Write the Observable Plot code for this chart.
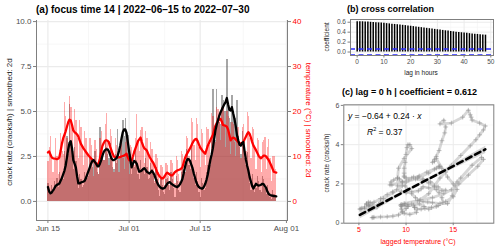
<!DOCTYPE html>
<html><head><meta charset="utf-8">
<script src="https://cdn.jsdelivr.net/npm/d3@7"></script>
<script src="https://cdn.jsdelivr.net/npm/@observablehq/plot@0.6"></script>
<style>
body{margin:0;background:#fff;font-family:"Liberation Sans",Arial,sans-serif;}
#wrap{position:relative;width:500px;height:248px;overflow:hidden;background:#fff;}
.p{position:absolute;}
.t{position:absolute;font-weight:bold;white-space:nowrap;color:#000;line-height:1;}
.lab{position:absolute;white-space:nowrap;line-height:1;transform:translate(-50%,-50%);}
.eq{position:absolute;white-space:nowrap;line-height:1;font-size:8.5px;color:#000;}
</style></head><body><div id="wrap"></div>
<script>
// ---------- data ----------
const startDate = "2022-06-15T00:00Z"; // first 6-hour bin
const crackBars = [
1.0,0.4,0.5,0.9, 0.5,1.1,0.9,1.3, 0.8,1.6,1.0,1.4, 1.2,2.8,2.2,3.6, 2.6,5.4,3.3,2.4,
1.8,3.0,2.2,1.4, 0.7,1.5,1.2,0.8, 0.9,1.6,1.4,1.3, 1.4,2.4,2.0,1.9, 2.2,2.8,1.9,1.6,
1.5,4.1,2.2,2.4, 2.3,3.4,3.0,2.6, 2.4,3.2,2.2,1.9, 1.8,2.6,2.1,4.0, 2.4,3.4,3.2,4.5,
3.6,4.6,3.9,3.65, 2.2,2.6,1.5,2.4, 1.9,2.9,2.3,1.5, 1.2,2.3,1.8,1.7, 1.5,2.4,1.9,1.2,
1.3,2.1,1.8,1.4, 1.0,1.9,1.2,0.6, 0.3,1.3,0.9,0.5, 0.4,1.2,1.3,0.9, 0.6,1.6,1.2,0.7,
0.2,1.4,1.1,0.6, 0.5,1.6,1.9,1.4, 1.6,2.9,2.6,2.0, 1.8,3.2,2.0,1.3, 0.9,1.6,1.1,0.5,
0.2,1.3,1.0,0.6, 0.7,1.6,2.0,2.0, 2.0,3.4,6.2,3.6, 3.4,6.2,4.6,4.4, 4.3,5.9,5.6,5.0,
5.0,7.9,5.2,4.6, 4.4,5.9,5.0,4.3, 4.6,5.6,3.6,3.0, 2.6,3.9,3.3,2.4, 2.0,2.7,1.6,1.0,
0.6,1.5,0.9,0.5, 0.7,1.4,1.1,0.6, 0.5,1.4,1.2,0.7, 0.4,0.9,0.5,0.2, 0.1,0.6,0.4,0.2];
const tempBars = [
8.8,12.0,14.5,10.5, 6.5,9.0,14.0,10.0, 6.0,9.5,15.0,11.0, 10.5,22.0,19.0,14.0, 12.0,23.3,21.0,16.0,
11.0,20.5,18.0,14.0, 9.5,18.0,16.5,12.5, 8.0,15.5,14.0,10.5, 6.5,14.0,12.5,9.0, 5.5,13.5,11.5,8.0,
6.0,14.0,15.5,12.5, 9.0,17.0,19.6,13.0, 8.0,16.0,14.5,10.0, 6.5,14.0,12.5,9.0, 6.5,13.5,13.0,9.5,
7.0,13.2,14.0,9.5, 6.0,12.5,12.0,9.0, 8.0,14.0,19.4,13.0, 11.0,15.8,16.5,12.0, 8.5,15.5,14.0,10.5,
6.5,13.0,11.5,8.5, 4.5,10.5,9.5,6.5, 3.0,8.0,7.5,5.0, 3.5,8.5,8.0,5.5, 3.5,9.0,8.5,5.5,
4.0,10.0,9.0,6.0, 4.5,11.0,10.5,7.0, 6.5,14.5,14.0,10.0, 8.5,18.5,17.5,12.5, 9.0,18.5,17.0,12.0,
7.5,16.0,15.0,11.0, 8.0,16.5,16.0,12.5, 10.0,19.6,19.0,14.5, 13.0,21.0,20.4,17.5, 13.5,21.0,21.5,16.5,
12.0,20.0,19.0,14.0, 10.5,17.5,17.0,13.0, 10.0,16.5,16.5,12.5, 9.5,16.5,17.0,13.0, 11.0,19.8,19.0,14.0,
9.5,16.5,16.0,12.0, 7.0,14.0,13.5,10.0, 6.5,13.0,13.5,14.2, 7.0,12.0,13.8,9.5, 4.5,10.0,10.0,7.0];
const crackSmooth = [
0.80,0.55,0.45,0.50,0.60,0.72,0.85,0.92,0.95,1.00,1.15,1.30,1.50,1.70,2.00,2.45,2.90,3.25,3.35,2.95,
2.30,2.10,1.90,1.40,1.00,1.00,1.05,1.08,1.10,1.15,1.30,1.50,1.70,1.90,2.10,2.25,2.30,2.20,2.10,1.95,
1.95,2.10,2.30,2.55,2.75,2.85,2.90,2.90,2.80,2.60,2.40,2.30,2.30,2.35,2.40,2.55,2.80,3.10,3.50,3.85,
4.00,4.00,3.80,3.30,2.80,2.30,1.90,2.10,2.25,2.20,2.10,1.85,1.65,1.68,1.72,1.80,1.85,1.75,1.65,1.60,
1.55,1.62,1.70,1.60,1.45,1.25,1.07,0.92,0.82,0.76,0.72,0.72,0.75,0.86,0.98,1.05,1.07,1.00,0.95,0.90,
0.85,0.82,0.80,0.86,0.95,1.08,1.25,1.55,1.90,2.20,2.35,2.35,2.25,2.05,1.85,1.55,1.30,1.05,0.90,0.80,
0.75,0.72,0.72,0.82,0.98,1.20,1.50,1.90,2.30,2.60,2.95,3.45,3.94,4.25,4.50,4.75,4.95,5.10,5.25,5.40,
5.52,5.75,5.40,5.10,5.06,5.24,4.90,4.60,4.20,3.70,3.40,3.15,3.10,3.25,3.30,2.80,2.35,2.00,1.72,1.35,
1.10,0.85,0.72,0.85,0.98,0.92,0.88,0.90,0.93,0.98,0.96,0.85,0.75,0.55,0.42,0.36,0.33,0.32,0.30,0.29,0.28];
const tempSmooth = [
10.9,11.1,10.4,9.8,9.6,9.5,9.5,9.4,9.5,9.8,11.2,12.8,14.0,14.8,15.6,16.6,17.6,18.2,18.0,17.0,
15.8,15.4,15.2,14.9,14.4,13.6,12.8,12.3,11.8,11.4,11.0,10.6,10.2,9.9,9.6,9.3,9.1,8.7,8.4,8.3,
8.5,9.6,11.2,12.4,13.0,13.5,13.6,13.5,13.2,12.2,11.4,10.6,10.0,9.8,9.8,9.8,9.8,9.9,10.0,10.1,
10.2,10.4,10.6,9.8,9.2,9.1,9.1,10.0,11.0,11.8,12.6,13.4,13.8,14.2,13.2,12.4,11.8,11.6,11.3,10.6,
10.0,9.5,9.0,8.6,8.0,7.3,6.6,6.0,5.6,5.3,5.1,5.2,5.6,6.1,6.4,6.2,6.0,5.8,5.8,6.1,
6.5,6.7,6.9,7.0,7.1,7.3,7.6,8.6,9.6,10.3,10.8,11.3,11.8,12.4,13.0,13.5,13.8,13.9,13.4,12.7,
12.0,11.6,11.2,10.9,10.6,11.5,12.4,13.0,13.6,14.2,14.8,15.8,16.8,17.4,17.8,18.2,18.4,17.8,17.0,16.9,
16.8,16.6,16.0,14.8,13.6,14.0,14.2,14.1,13.8,13.5,13.2,13.0,12.8,13.0,13.2,13.8,14.4,15.0,15.4,15.0,
14.2,13.2,12.4,11.9,11.4,10.8,10.2,9.8,9.6,9.9,10.2,10.2,10.0,9.6,9.2,8.6,8.0,7.3,6.6,6.5,6.4];
const tempScale = 4; // °C per crack-rate unit on the secondary axis
const yTicksA = [0, 2.5, 5, 7.5, 10];
const yMinorA = [1.25, 3.75, 6.25, 8.75];
const dateTicks = ["2022-06-15", "2022-07-01", "2022-07-15", "2022-08-01"];
const dateMinor = ["2022-06-23", "2022-07-08", "2022-07-23T12:00"];

const lags = [0,1,2,3,4,5,6,7,8,9,10,11,12,13,14,15,16,17,18,19,20,21,22,23,24,25,26,27,28,29,30,31,32,33,34,35,36,37,38,39,40,41,42,43,44,45,46,47,48];
const ccf = [0.612,0.611,0.609,0.606,0.603,0.599,0.595,0.591,0.587,0.582,0.577,0.572,0.567,0.561,0.556,0.550,0.544,0.538,0.532,0.525,
0.519,0.512,0.505,0.498,0.491,0.484,0.477,0.470,0.463,0.456,0.449,0.442,0.435,0.428,0.421,0.414,0.407,0.400,0.394,0.388,
0.382,0.376,0.370,0.365,0.360,0.355,0.350,0.345,0.340];
const ciBound = 0.06;
const lagTicks = [0,10,20,30,40,50];
const lagMinor = [5,15,25,35,45];
const ccfTicks = [0,0.2,0.4,0.6];
const ccfMinor = [0.1,0.3,0.5];

const tempTicksC = [5,10,15];
const tempMinorC = [7.5,12.5,17.5];
const crackTicksC = [0,2,4,6];
const crackMinorC = [1,3,5];

// ---------- tables ----------
const H6 = 6*3600*1000;
const t0 = Date.parse(startDate);
const bars = crackBars.map((c,k)=>({a:new Date(t0+k*H6), b:new Date(t0+(k+1)*H6), crack:c, temp:tempBars[k]}));
const smooth = crackSmooth.map((c,k)=>({t:new Date(t0+k*H6), crack:c, temp:tempSmooth[k]}));
const ccfData = lags.map((l,i)=>({lag:l, r:ccf[i]}));

const FONT = "Liberation Sans, Arial, sans-serif";
const GRID = "#ebebeb", GRIDM = "#f4f4f4", AX = "#7f7f7f", TXT = "#4d4d4d";
const wrap = document.getElementById("wrap");
function place(el, left, top){ el.classList.add("p"); el.style.left=left+"px"; el.style.top=top+"px"; wrap.appendChild(el); }
function text(cls, html, css){ const d=document.createElement("div"); d.className=cls; d.innerHTML=html; Object.assign(d.style, css); wrap.appendChild(d); return d; }

// ---------- panel (a) ----------
const pa = Plot.plot({
  width:320, height:248, marginLeft:36, marginRight:33, marginTop:20, marginBottom:28,
  style:{fontFamily:FONT, fontSize:"8px", background:"transparent", overflow:"visible"},
  x:{type:"utc", domain:[new Date("2022-06-12T18:00Z"), new Date("2022-08-01T05:00Z")]},
  y:{domain:[-1.06, 10.06]},
  marks:[
    Plot.ruleY(yMinorA, {stroke:GRIDM, strokeWidth:0.7}),
    Plot.ruleX(dateMinor, {x:d=>new Date(d+"Z"), stroke:GRIDM, strokeWidth:0.7}),
    Plot.ruleY(yTicksA, {stroke:GRID, strokeWidth:1.2}),
    Plot.ruleX(dateTicks, {x:d=>new Date(d+"T00:00Z"), stroke:GRID, strokeWidth:1.2}),
    Plot.rectY(bars, {x1:"a", x2:"b", y:"crack", fill:"#4d4d4d", fillOpacity:0.5, shapeRendering:"crispEdges"}),
    Plot.rectY(bars, {x1:"a", x2:"b", y:d=>d.temp/tempScale, fill:"red", fillOpacity:0.33, shapeRendering:"crispEdges"}),
    Plot.line(smooth, {x:"t", y:d=>d.temp/tempScale, stroke:"red", strokeWidth:2.3}),
    Plot.line(smooth, {x:"t", y:"crack", stroke:"black", strokeWidth:2.3}),
    Plot.axisY(yTicksA, {anchor:"left", tickFormat:d=>d.toFixed(1), tickSize:3, tickPadding:2, color:TXT, stroke:AX, label:null}),
    Plot.axisY(yTicksA, {anchor:"right", tickFormat:d=>String(d*tempScale), tickSize:3, tickPadding:2, color:"red", stroke:AX, label:null}),
    Plot.axisX(dateTicks.map(d=>new Date(d+"T00:00Z")), {tickFormat:d3.utcFormat("%b %d"), tickSize:3, tickPadding:2, color:TXT, stroke:AX, label:null}),
    Plot.frame({anchor:"left", stroke:AX}),
    Plot.frame({anchor:"right", stroke:AX}),
    Plot.frame({anchor:"bottom", stroke:AX})
  ]
});
place(pa, 0, 0);

// ---------- panel (b) ----------
const pb = Plot.plot({
  width:180, height:80, marginLeft:30, marginRight:7, marginTop:19, marginBottom:25,
  style:{fontFamily:FONT, fontSize:"6.5px", background:"transparent", overflow:"visible"},
  x:{domain:[-2.5, 51]},
  y:{domain:[-0.07, 0.655]},
  marks:[
    Plot.ruleX(lagMinor, {stroke:GRIDM, strokeWidth:0.6}),
    Plot.ruleY(ccfMinor, {stroke:GRIDM, strokeWidth:0.6}),
    Plot.ruleX(lagTicks, {stroke:GRID, strokeWidth:1}),
    Plot.ruleY(ccfTicks, {stroke:GRID, strokeWidth:1}),
    Plot.ruleX(ccfData, {x:"lag", y1:0, y2:"r", stroke:"black", strokeWidth:1.5}),
    Plot.ruleY([ciBound, -ciBound], {stroke:"#2b2bff", strokeWidth:1.6, strokeDasharray:"5,3.5"}),
    Plot.axisY(ccfTicks, {anchor:"left", tickFormat:d=>d.toFixed(1), tickSize:2.5, tickPadding:2, color:TXT, stroke:AX, label:null}),
    Plot.axisX(lagTicks, {tickSize:2.5, tickPadding:1.5, color:TXT, stroke:AX, label:null}),
    Plot.frame({stroke:AX})
  ]
});
place(pb, 320, 0);

// ---------- panel (c) ----------
const pc = Plot.plot({
  width:180, height:152, marginLeft:23.3, marginRight:6.7, marginTop:8.3, marginBottom:25.3,
  style:{fontFamily:FONT, fontSize:"7px", background:"transparent", overflow:"visible"},
  x:{domain:[3.4, 19.3]},
  y:{domain:[0, 6.03]},
  marks:[
    Plot.ruleX(tempMinorC, {stroke:GRIDM, strokeWidth:0.6}),
    Plot.ruleY(crackMinorC, {stroke:GRIDM, strokeWidth:0.6}),
    Plot.ruleX(tempTicksC, {stroke:GRID, strokeWidth:1}),
    Plot.ruleY(crackTicksC, {stroke:GRID, strokeWidth:1}),
    Plot.line(smooth, {x:"temp", y:"crack", stroke:"#9a9a9a", strokeOpacity:0.4, strokeWidth:2.8}),
    Plot.dot(smooth, {x:"temp", y:"crack", symbol:"plus", r:1.7, stroke:"#8a8a8a", strokeOpacity:0.55, strokeWidth:0.9}),
    Plot.linearRegressionY(smooth, {x:"temp", y:"crack", ci:0.68, fill:"#c4c4c4", fillOpacity:0.7, stroke:"black", strokeWidth:2.6, strokeDasharray:"6,4"}),
    Plot.axisY(crackTicksC, {anchor:"left", tickSize:2.5, tickPadding:2, color:TXT, stroke:AX, label:null}),
    Plot.axisX(tempTicksC, {tickSize:2.5, tickPadding:1.5, color:"red", stroke:AX, label:null}),
    Plot.frame({stroke:AX})
  ]
});
place(pc, 320, 96);

// ---------- titles & labels ----------
text("t", "(a) focus time 14 | 2022–06–15 to 2022–07–30", {left:"36px", top:"5px", fontSize:"10px"});
text("t", "(b) cross correlation", {left:"347px", top:"4.5px", fontSize:"9px"});
text("t", "(c) lag = 0 h | coefficient = 0.612", {left:"342px", top:"88px", fontSize:"9px"});

text("lab", "crack rate (cracks/h) | smoothed: 2d", {left:"10px", top:"122px", fontSize:"8px", color:"#1a1a1a", transform:"translate(-50%,-50%) rotate(-90deg)"});
text("lab", "temperature (°C) | smoothed: 2d", {left:"308px", top:"120px", fontSize:"8px", color:"red", transform:"translate(-50%,-50%) rotate(90deg)"});
text("lab", "coefficient", {left:"327px", top:"37px", fontSize:"6.5px", color:"#1a1a1a", transform:"translate(-50%,-50%) rotate(-90deg)"});
text("lab", "lag in hours", {left:"421px", top:"72.5px", fontSize:"6.5px", color:"#1a1a1a"});
text("lab", "crack rate (cracks/h)", {left:"327px", top:"163px", fontSize:"6.5px", color:"#1a1a1a", transform:"translate(-50%,-50%) rotate(-90deg)"});
text("lab", "lagged temperature (°C)", {left:"418px", top:"240.5px", fontSize:"7px", color:"red"});

text("eq", "<i>y</i> = −0.64 + 0.24 · <i>x</i>", {left:"348px", top:"112px"});
text("eq", "<i>R</i><sup style='font-size:5.5px;vertical-align:4px;line-height:0'>2</sup> = 0.37", {left:"367px", top:"128px"});
</script></body></html>
